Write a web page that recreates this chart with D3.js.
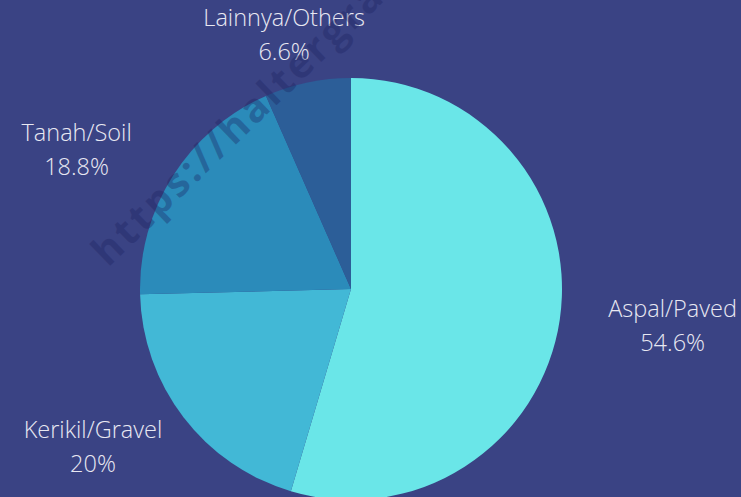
<!DOCTYPE html>
<html>
<head>
<meta charset="utf-8">
<script src="https://cdn.jsdelivr.net/npm/d3@7"></script>
<style>
  html, body { margin: 0; padding: 0; background: #3a4384; overflow: hidden; }
  svg { display: block; }
</style>
</head>
<body>
<div id="chart"></div>
<script>
// road surface shares, clockwise from 12 o'clock
const categories = ["Aspal/Paved", "Kerikil/Gravel", "Tanah/Soil", "Lainnya/Others"];
const values = [54.6, 20, 18.8, 6.6];
const valueLabels = ["54.6%", "20%", "18.8%", "6.6%"];
const colors = ["#6ae6e8", "#42b8d6", "#2b8bba", "#2c5e98"];

const width = 741;
const height = 497;
const cx = 351, cy = 289;
const radius = 211;

const svg = d3.select("#chart")
    .append("svg")
    .attr("width", width)
    .attr("height", height);

svg.append("rect")
    .attr("width", width)
    .attr("height", height)
    .attr("fill", "#3a4384");

const pie = d3.pie().sort(null).value(d => d.value);
const arc = d3.arc().innerRadius(0).outerRadius(radius);

const data = categories.map((c, i) => ({ name: c, value: values[i], label: valueLabels[i], color: colors[i] }));
const arcs = pie(data);

const g = svg.append("g").attr("transform", `translate(${cx},${cy})`);

g.selectAll("path")
    .data(arcs)
    .join("path")
    .attr("d", arc)
    .attr("fill", d => d.data.color);

// labels sit on an ellipse outside the pie, at each slice's mid angle
const labelRx = 325, labelRy = 260, labelDy = 8;
const labels = g.selectAll("g.label")
    .data(arcs)
    .join("g")
    .attr("class", "label")
    .attr("transform", d => {
        const a = (d.startAngle + d.endAngle) / 2;
        return `translate(${labelRx * Math.sin(a)},${labelDy - labelRy * Math.cos(a)})`;
    })
    .attr("font-family", "'Open Sans', sans-serif")
    .attr("font-weight", 300)
    .attr("font-size", 23.5)
    .attr("fill", "#e8e8f2")
    .attr("text-anchor", "middle");

labels.append("text").attr("y", -17).text(d => d.data.name);
labels.append("text").attr("y", 17).text(d => d.data.label);

// watermark
svg.append("text")
    .attr("transform", "translate(108,268) rotate(-44)")
    .attr("font-family", "'Open Sans', sans-serif")
    .attr("font-weight", 700)
    .attr("font-size", 40)
    .attr("letter-spacing", 3)
    .attr("fill", "#1a2160")
    .attr("fill-opacity", 0.34)
    .text("https://haltergraf.com");
</script>
</body>
</html>
